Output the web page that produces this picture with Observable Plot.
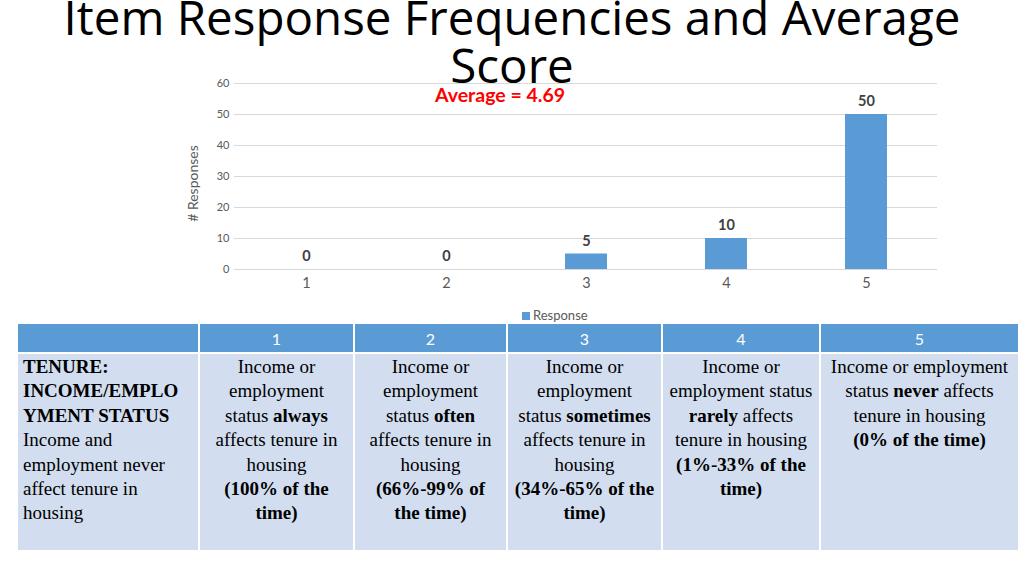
<!DOCTYPE html>
<html>
<head>
<meta charset="utf-8">
<script src="https://cdn.jsdelivr.net/npm/d3@7"></script>
<script src="https://cdn.jsdelivr.net/npm/@observablehq/plot@0.6"></script>
<style>
  html, body { margin: 0; padding: 0; background: #fff; }
  #root { position: relative; width: 1024px; height: 575px; overflow: hidden; }
  #chart { position: absolute; left: 0; top: 0; }
  #title { position: absolute; left: 0; top: -7px; width: 1024px; text-align: center;
           font-family: "Open Sans", sans-serif; font-size: 47.5px; line-height: 48px; color: #000; z-index: 2; }
  #avg { position: absolute; left: 400px; width: 200px; top: 83px; text-align: center;
         font-family: Lato, sans-serif; font-weight: bold; font-size: 19.5px; color: #ff0000; z-index: 3; }
  #legend { position: absolute; left: 522px; top: 307px; font-family: Lato, sans-serif; font-size: 13px; color: #595959; }
  #legend span.sw { display: inline-block; width: 8px; height: 8px; background: #5b9bd5; margin-right: 3px; vertical-align: 0px; }
  table { position: absolute; left: 16px; top: 322px; width: 1002px; border-collapse: collapse; table-layout: fixed; }
  th, td { border: 2px solid #fff; }
  th { background: #5b9bd5; color: #fff; font-family: Lato, sans-serif; font-weight: normal; font-size: 16px; height: 28px; padding: 0; }
  td { background: #d2deef; color: #000; font-family: "Liberation Serif", "Times New Roman", Times, serif;
       font-size: 19px; line-height: 24.4px;
       height: 195px; vertical-align: top; padding: 1px 6px 0 6px; text-align: center; }
  td.first { text-align: left; padding-left: 5px; padding-right: 4px; }
</style>
</head>
<body>
<div id="root">
  <div id="chart"></div>
  <div id="title">Item Response Frequencies and Average<br>Score</div>
  <div id="avg">Average = 4.69</div>
  <div id="legend"><span class="sw"></span>Response</div>
</div>
<script>
const responses = [1, 2, 3, 4, 5];
const counts = [0, 0, 5, 10, 50];
const yTicks = [0, 10, 20, 30, 40, 50, 60];
const seriesName = "Response";
const yLabel = "# Responses";
const tableHeaders = ["", "1", "2", "3", "4", "5"];
const tableCells = [
  "<b>TENURE: INCOME/EMPLO YMENT STATUS</b><br>Income and employment never affect tenure in housing",
  "Income or employment status <b>always</b> affects tenure in housing<br><b>(100% of the time)</b>",
  "Income or employment status <b>often</b> affects tenure in housing<br><b>(66%-99% of the time)</b>",
  "Income or employment status <b>sometimes</b> affects tenure in housing<br><b>(34%-65% of the time)</b>",
  "Income or employment status <b>rarely</b> affects tenure in housing<br><b>(1%-33% of the time)</b>",
  "Income or employment status <b>never</b> affects tenure in housing<br><b>(0% of the time)</b>"
];
const colWidths = [182, 155, 153, 155, 158, 199];

const data = responses.map((r, i) => ({response: r, count: counts[i]}));

const chart = Plot.plot({
  width: 1024,
  height: 300,
  marginLeft: 234,
  marginRight: 87,
  marginTop: 83,
  marginBottom: 31,
  style: {fontFamily: "Lato, sans-serif", background: "transparent"},
  x: {domain: responses, paddingInner: 0.7, paddingOuter: 0.35, label: null},
  y: {domain: [0, 60], ticks: yTicks, label: null},
  marks: [
    Plot.gridY(yTicks, {stroke: "#d9d9d9", strokeOpacity: 1, strokeWidth: 1}),
    Plot.barY(data, {x: "response", y: "count", fill: "#5b9bd5"}),
    Plot.text(data, {x: "response", y: "count", text: d => String(d.count), dy: -13,
      fontWeight: "bold", fontSize: 14.5, fill: "#404040"}),
    Plot.axisX({tickSize: 0, tickPadding: 8, fontSize: 14.5, color: "#595959", label: null}),
    Plot.axisY(yTicks, {tickSize: 0, tickPadding: 5, fontSize: 11, color: "#595959",
      label: yLabel, labelAnchor: "center", labelOffset: 46, labelArrow: "none"})
  ]
});
document.getElementById("chart").appendChild(chart);
chart.querySelectorAll("g[aria-label='y-axis label']").forEach(g => {
  const t0 = g.getAttribute("transform") || "";
  g.setAttribute("transform", "translate(0,7) " + t0);
  g.querySelectorAll("text").forEach(t => t.setAttribute("font-size", "14"));
});

const table = document.createElement("table");
const cg = document.createElement("colgroup");
colWidths.forEach(w => { const c = document.createElement("col"); c.style.width = w + "px"; cg.appendChild(c); });
table.appendChild(cg);
const hr = document.createElement("tr");
tableHeaders.forEach(h => { const th = document.createElement("th"); th.textContent = h; hr.appendChild(th); });
table.appendChild(hr);
const br = document.createElement("tr");
tableCells.forEach((c, i) => { const td = document.createElement("td"); td.innerHTML = c; if (i === 0) td.className = "first"; br.appendChild(td); });
table.appendChild(br);
document.getElementById("root").appendChild(table);
</script>
</body>
</html>
